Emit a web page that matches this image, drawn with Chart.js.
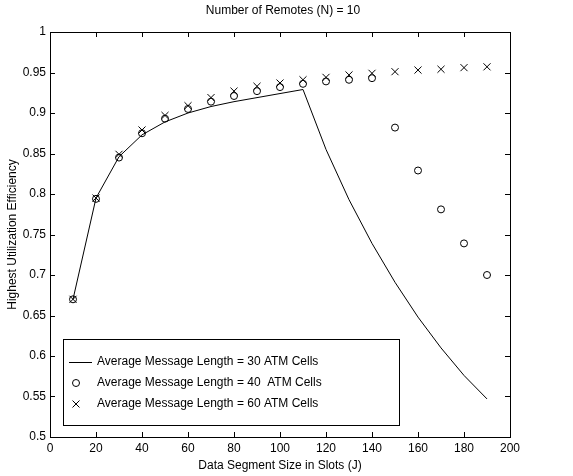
<!DOCTYPE html>
<html>
<head>
<meta charset="utf-8">
<title>Highest Utilization Efficiency</title>
<script src="https://cdn.jsdelivr.net/npm/chart.js@4.4.1/dist/chart.umd.min.js"></script>
<style>
  html, body { margin: 0; padding: 0; background: #fff; }
  #wrap { width: 573px; height: 476px; }
</style>
</head>
<body>
<div id="wrap"><canvas id="chart" width="573" height="476"></canvas></div>
<script>
// data segment size J
const segmentSizes = [10, 20, 30, 40, 50, 60, 70, 80, 90, 100, 110, 120, 130, 140, 150, 160, 170, 180, 190];

// highest utilization efficiency per average message length
const len30 = [0.670, 0.795, 0.846, 0.873, 0.889, 0.900, 0.908, 0.914, 0.919, 0.924, 0.929,
               0.855, 0.793, 0.739, 0.691, 0.648, 0.610, 0.576, 0.547];
const len40 = [0.670, 0.794, 0.845, 0.875, 0.893, 0.905, 0.914, 0.921, 0.927, 0.932, 0.936,
               0.939, 0.941, 0.943, 0.882, 0.829, 0.781, 0.739, 0.700];
const len60 = [0.670, 0.795, 0.849, 0.879, 0.897, 0.909, 0.919, 0.927, 0.933, 0.937, 0.941,
               0.944, 0.947, 0.949, 0.951, 0.953, 0.954, 0.956, 0.957];

const seriesLabels = [
  "Average Message Length = 30 ATM Cells",
  "Average Message Length = 40  ATM Cells",
  "Average Message Length = 60 ATM Cells"
];
const chartTitle = "Number of Remotes (N) = 10";

const FONT = "'Liberation Sans', Arial, Helvetica, sans-serif";

function toPoints(values) {
  return segmentSizes.map((x, i) => ({ x: x, y: values[i] }));
}

// MATLAB style frame: box, inward ticks, title and legend box inside the axes
const matlabFrame = {
  id: "matlabFrame",
  afterDraw(chart) {
    const ctx = chart.ctx;
    const area = chart.chartArea;
    const xs = chart.scales.x;
    const ys = chart.scales.y;
    const tick = 5;

    ctx.save();
    ctx.strokeStyle = "#000";
    ctx.lineWidth = 1;
    ctx.strokeRect(Math.round(area.left) + 0.5, Math.round(area.top) + 0.5,
      Math.round(area.right - area.left), Math.round(area.bottom - area.top));

    ctx.beginPath();
    xs.ticks.forEach(t => {
      const px = Math.round(xs.getPixelForValue(t.value)) + 0.5;
      ctx.moveTo(px, area.bottom); ctx.lineTo(px, area.bottom - tick);
      ctx.moveTo(px, area.top); ctx.lineTo(px, area.top + tick);
    });
    ys.ticks.forEach(t => {
      const py = Math.round(ys.getPixelForValue(t.value)) + 0.5;
      ctx.moveTo(area.left, py); ctx.lineTo(area.left + tick, py);
      ctx.moveTo(area.right, py); ctx.lineTo(area.right - tick, py);
    });
    ctx.stroke();

    // title
    ctx.fillStyle = "#000";
    ctx.font = "12px " + FONT;
    ctx.textAlign = "center";
    ctx.textBaseline = "middle";
    ctx.fillText(chartTitle, (area.left + area.right) / 2 + 3, 11);

    // legend
    const box = { left: 63.5, top: 339.5, right: 399.5, bottom: 425.5 };
    ctx.fillStyle = "#fff";
    ctx.fillRect(box.left, box.top, box.right - box.left, box.bottom - box.top);
    ctx.strokeRect(box.left, box.top, box.right - box.left, box.bottom - box.top);

    const rows = [362, 383, 404];
    ctx.fillStyle = "#000";
    ctx.textAlign = "left";
    chart.data.datasets.forEach((ds, i) => {
      const y = rows[i];
      ctx.beginPath();
      if (i === 0) {
        ctx.moveTo(69, y + 0.5); ctx.lineTo(92, y + 0.5);
      } else if (i === 1) {
        ctx.arc(76, y, 3.5, 0, Math.PI * 2);
      } else {
        ctx.moveTo(72.5, y - 3.5); ctx.lineTo(79.5, y + 3.5);
        ctx.moveTo(79.5, y - 3.5); ctx.lineTo(72.5, y + 3.5);
      }
      ctx.stroke();
      ctx.fillText(ds.label, 97, y);
    });
    ctx.restore();
  }
};

new Chart(document.getElementById("chart"), {
  type: "line",
  data: {
    datasets: [
      {
        label: seriesLabels[0],
        data: toPoints(len30),
        borderColor: "#000",
        borderWidth: 1,
        pointRadius: 0,
        tension: 0,
        fill: false
      },
      {
        label: seriesLabels[1],
        data: toPoints(len40),
        showLine: false,
        pointStyle: "circle",
        pointRadius: 3.5,
        borderColor: "#000",
        backgroundColor: "rgba(0,0,0,0)",
        pointBorderWidth: 1
      },
      {
        label: seriesLabels[2],
        data: toPoints(len60),
        showLine: false,
        pointStyle: "crossRot",
        pointRadius: 5,
        borderColor: "#000",
        pointBorderWidth: 1
      }
    ]
  },
  options: {
    responsive: false,
    animation: false,
    layout: { padding: { top: 32, right: 63, left: 0, bottom: 0 } },
    plugins: {
      legend: { display: false },
      title: { display: false },
      tooltip: { enabled: false }
    },
    scales: {
      x: {
        type: "linear",
        min: 0,
        max: 200,
        grid: { display: false, drawTicks: false },
        border: { display: false },
        ticks: {
          stepSize: 20,
          padding: 4,
          maxRotation: 0,
          color: "#000",
          font: { family: FONT, size: 12 }
        },
        title: {
          display: true,
          text: "Data Segment Size in Slots (J)",
          color: "#000",
          font: { family: FONT, size: 12 },
          padding: { top: 0, bottom: 3 }
        },
        afterFit: s => { s.height = 39; }
      },
      y: {
        min: 0.5,
        max: 1,
        grid: { display: false, drawTicks: false },
        border: { display: false },
        ticks: {
          stepSize: 0.05,
          padding: 4,
          color: "#000",
          font: { family: FONT, size: 12 },
          callback: v => String(Number(v.toFixed(2)))
        },
        title: {
          display: true,
          text: "Highest Utilization Efficiency",
          color: "#000",
          font: { family: FONT, size: 12 },
          padding: { top: 5, bottom: 0 }
        },
        afterFit: s => { s.width = 50; }
      }
    }
  },
  plugins: [matlabFrame]
});
</script>
</body>
</html>
